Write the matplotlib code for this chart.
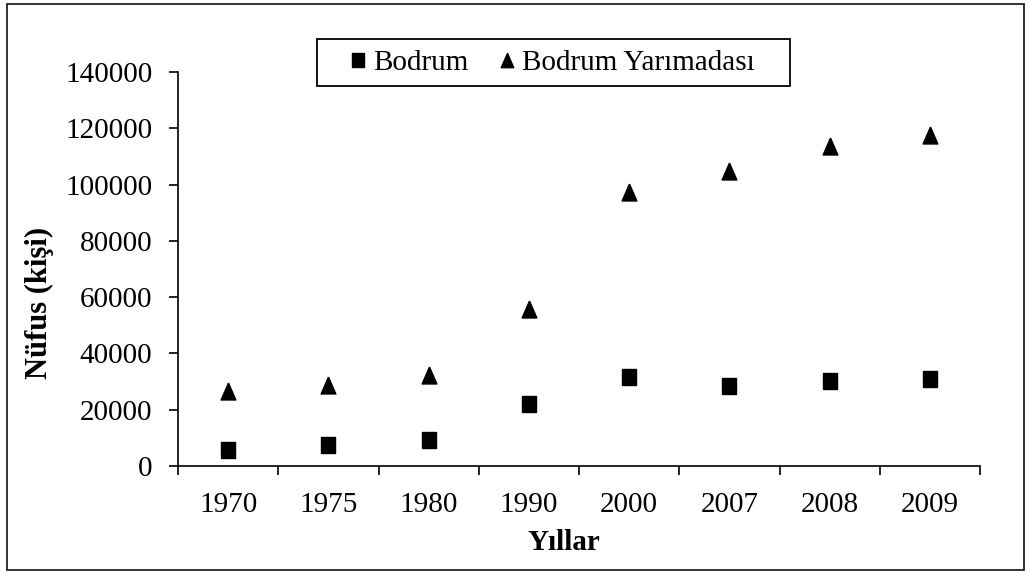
import matplotlib.pyplot as plt
from matplotlib.patches import Rectangle

yillar = ['1970', '1975', '1980', '1990', '2000', '2007', '2008', '2009']
bodrum = [5800, 7300, 9400, 22200, 31700, 28400, 30300, 31000]
yarimada = [26800, 28700, 32200, 55900, 97300, 104700, 113600, 117500]

plt.rcParams['font.family'] = ['Liberation Serif', 'DejaVu Serif']

W, H = 1031, 574
fig = plt.figure(figsize=(W / 100, H / 100), dpi=100)
ax = fig.add_axes([178 / W, 1 - 466 / H, 802 / W, 394 / H])

# dis cerceve
fig.patches.append(Rectangle((7 / W, 4 / H), 1017 / W, 566 / H,
                             transform=fig.transFigure, fill=False,
                             edgecolor='#222222', linewidth=1.3))

# biraz uzun kare ve ucgen isaretler (Excel gibi)
kare = [(-0.88, -1), (0.88, -1), (0.88, 1), (-0.88, 1), (-0.88, -1)]
ucgen = [(0, 1), (-0.87, -1), (0.87, -1), (0, 1)]

x = list(range(len(yillar)))
ax.plot(x, bodrum, linestyle='none', marker=kare, color='black',
        markersize=11.9, label='Bodrum', clip_on=False)
ax.plot(x, yarimada, linestyle='none', marker=ucgen, color='black',
        markersize=12.2, label='Bodrum Yarımadası', clip_on=False)

ax.set_xlim(-0.5, len(yillar) - 0.5)
ax.set_ylim(0, 140000)
ax.set_yticks(range(0, 140001, 20000))
ax.set_xticks([i - 0.5 for i in range(len(yillar) + 1)])
ax.set_xticklabels([])
ax.set_xticks(x, minor=True)
ax.set_xticklabels(yillar, minor=True)
ax.tick_params(axis='x', which='minor', length=0, labelsize=21, pad=19)
ax.tick_params(axis='x', which='major', length=6.5, width=1.2, direction='out')
ax.tick_params(axis='y', length=6.5, width=1.2, labelsize=21, pad=12)

for s in ['top', 'right']:
    ax.spines[s].set_visible(False)
for s in ['left', 'bottom']:
    ax.spines[s].set_linewidth(1.2)

fig.text(39 / W, 1 - 303 / H, 'Nüfus (kişi)', fontsize=22, fontweight='bold',
         rotation=90, ha='center', va='center')
fig.text(564 / W, 1 - 543 / H, 'Yıllar', fontsize=21, fontweight='bold',
         ha='center', va='center')

# lejant
fs = 21
fs_px = fs * 100 / 72
hl = 0.8
leg = ax.legend(loc='center left',
                bbox_to_anchor=((358 - hl * fs_px / 2) / W, 1 - 63 / H),
                bbox_transform=fig.transFigure, ncol=2, fontsize=fs,
                frameon=False, borderpad=0, borderaxespad=0,
                handlelength=hl, handletextpad=(373 - 358 - hl * fs_px / 2) / fs_px,
                columnspacing=(510.5 - hl * fs_px / 2 - 472) / fs_px,
                markerscale=0.85)
fig.patches.append(Rectangle((317 / W, 1 - 86 / H), 473 / W, 47 / H,
                             transform=fig.transFigure, fill=False,
                             edgecolor='black', linewidth=1.3))

fig.savefig('out.png', dpi=100)
